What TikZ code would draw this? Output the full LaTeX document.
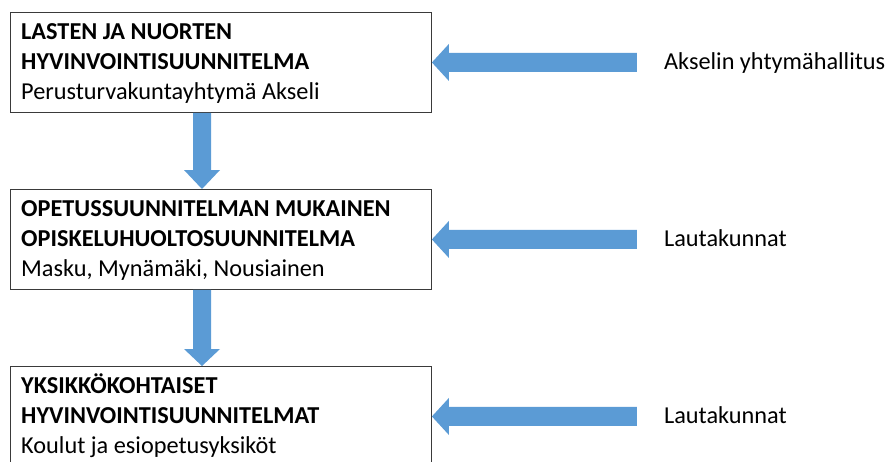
\documentclass[tikz,border=0pt]{standalone}
\usepackage{fontspec}
\setmainfont{Carlito}
\usetikzlibrary{calc}
\definecolor{arrowblue}{HTML}{5B9BD5}
\definecolor{boxline}{HTML}{3A3A3A}
\begin{document}
\begin{tikzpicture}[x=1pt,y=-1pt,
  planbox/.style={draw=boxline, line width=0.9pt, minimum width=421pt, minimum height=100pt, anchor=north west, inner sep=0pt},
  plantext/.style={anchor=base west, align=flush left, text width=410pt, inner sep=0pt, font=\fontsize{24.3}{30}\selectfont},
  sidetext/.style={anchor=base west, inner sep=0pt, font=\fontsize{24.3}{28}\selectfont},
  blockarrow/.style={fill=arrowblue, draw=none}]
\useasboundingbox (0,0) rectangle (893,461);

% boxes
\node[planbox] (b1) at (10,12) {};
\node[planbox] (b2) at (10,189) {};
\node[planbox] (b3) at (10,366) {};

% box texts
\node[plantext] (t1) at ($(b1.north west)+(11,27)$) {\textbf{LASTEN JA NUORTEN}\\\textbf{HYVINVOINTISUUNNITELMA}\\Perusturvakuntayhtymä Akseli};
\node[plantext] (t2) at ($(b2.north west)+(11,27)$) {\textbf{OPETUSSUUNNITELMAN MUKAINEN}\\\textbf{OPISKELUHUOLTOSUUNNITELMA}\\Masku, Mynämäki, Nousiainen};
\node[plantext] (t3) at ($(b3.north west)+(11,27)$) {\textbf{YKSIKKÖKOHTAISET}\\\textbf{HYVINVOINTISUUNNITELMAT}\\Koulut ja esiopetusyksiköt};

% side labels
\node[sidetext] (s1) at ($(b1.east)+(232,7)$) {Akselin yhtymähallitus};
\node[sidetext] (s2) at ($(b2.east)+(232,7)$) {Lautakunnat};
\node[sidetext] (s3) at ($(b3.east)+(232,7)$) {Lautakunnat};

% down block arrows
\coordinate (d1top) at ($(b1.south west)+(192,0)$);
\coordinate (d1tip) at (d1top |- b2.north);
\fill[blockarrow] ($(d1top)+(-9,0)$) -- ($(d1top)+(9,0)$) -- ($(d1tip)+(9,-19)$) -- ($(d1tip)+(18,-19)$) -- (d1tip) -- ($(d1tip)+(-18,-19)$) -- ($(d1tip)+(-9,-19)$) -- cycle;

\coordinate (d2top) at ($(b2.south west)+(192,0)$);
\coordinate (d2tip) at (d2top |- b3.north);
\fill[blockarrow] ($(d2top)+(-9,0)$) -- ($(d2top)+(9,0)$) -- ($(d2tip)+(9,-17)$) -- ($(d2tip)+(18,-17)$) -- (d2tip) -- ($(d2tip)+(-18,-17)$) -- ($(d2tip)+(-9,-17)$) -- cycle;

% left block arrows
\foreach \i in {1,2,3} {
  \coordinate (l\i tail) at ($(s\i.west |- b\i.east)+(-27,0)$);
  \coordinate (l\i tip) at (b\i.east);
  \fill[blockarrow] ($(l\i tail)+(0,-9.5)$) -- ($(l\i tip)+(17,-9.5)$) -- ($(l\i tip)+(17,-18.5)$) -- (l\i tip) -- ($(l\i tip)+(17,18.5)$) -- ($(l\i tip)+(17,9.5)$) -- ($(l\i tail)+(0,9.5)$) -- cycle;
}
\end{tikzpicture}
\end{document}
